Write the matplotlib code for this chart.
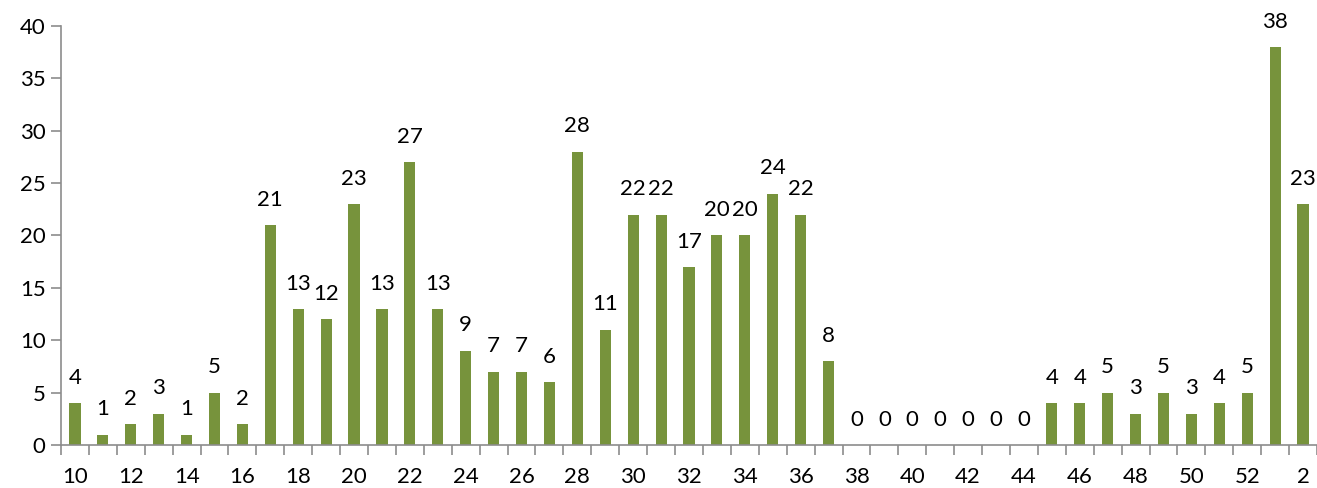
import matplotlib
matplotlib.use("Agg")
from matplotlib import pyplot as plt
import numpy as np

# week numbers and counts
weeks = [str(w) for w in range(10, 54)] + ["2"]
counts = [4, 1, 2, 3, 1, 5, 2, 21, 13, 12, 23, 13, 27, 13, 9, 7, 7, 6,
          28, 11, 22, 22, 17, 20, 20, 24, 22, 8, 0, 0, 0, 0, 0, 0, 0,
          4, 4, 5, 3, 5, 3, 4, 5, 38, 23]
yticks = [0, 5, 10, 15, 20, 25, 30, 35, 40]

plt.rcParams['font.family'] = ['Lato', 'DejaVu Sans']
axis_grey = '#8c8c8c'
fs = 16

fig = plt.figure(figsize=(13.17, 4.88), dpi=100)
ax = fig.add_axes([61/1317, 1-445/488, 1-61/1317, (445-26)/488])

x = np.arange(len(weeks))
bars = ax.bar(x, counts, width=0.4, color='#77933C')
for xi, c in zip(x, counts):
    ax.annotate(str(c), (xi, c), xytext=(0, 11), textcoords='offset points',
                ha='center', va='bottom', fontsize=fs)

ax.set_xlim(-0.5, len(weeks) - 0.5)
ax.set_ylim(0, 40)
ax.set_yticks(yticks)
ax.set_xticks(x[::2])
ax.set_xticklabels(weeks[::2])
ax.set_xticks(np.arange(len(weeks) + 1) - 0.5, minor=True)
ax.tick_params(axis='x', which='major', length=0, pad=16, labelsize=fs)
ax.tick_params(axis='x', which='minor', length=7, color=axis_grey, width=1.2)
ax.tick_params(axis='y', length=7, color=axis_grey, width=1.2, labelsize=fs, pad=4)

for s in ['top', 'right']:
    ax.spines[s].set_visible(False)
for s in ['left', 'bottom']:
    ax.spines[s].set_color(axis_grey)
    ax.spines[s].set_linewidth(1.2)
ax.patch.set_visible(False)

fig.savefig('out.png', dpi=100)
